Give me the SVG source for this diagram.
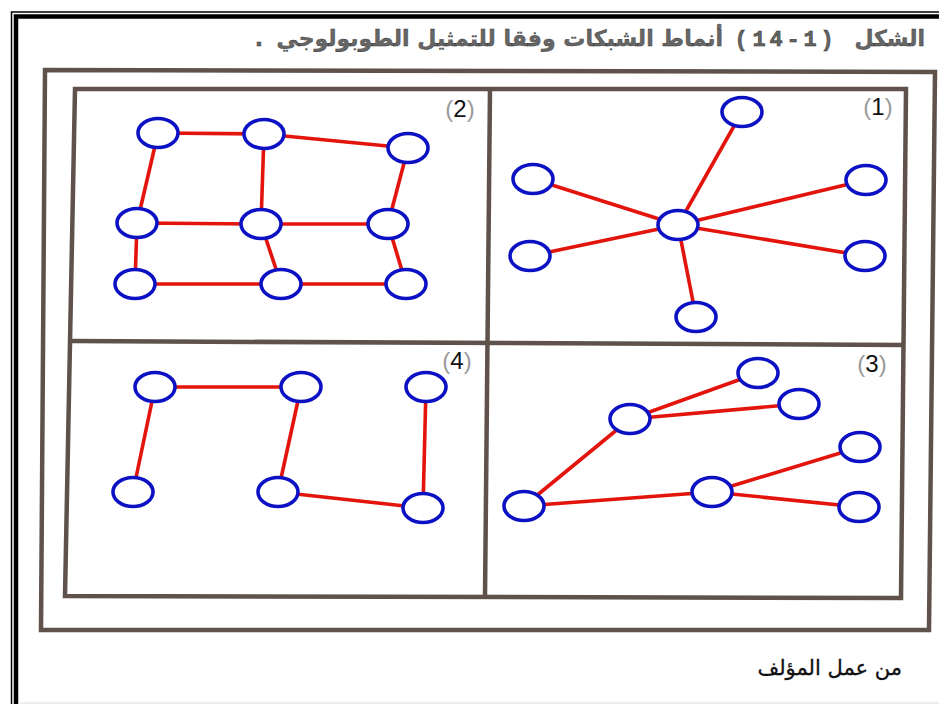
<svg xmlns="http://www.w3.org/2000/svg" width="939" height="704" viewBox="0 0 939 704">
<style>
  .frame { fill: none; stroke: #5e524b; stroke-width: 4.5; stroke-linejoin: miter; }
  .edge { stroke: #e3140c; stroke-width: 3.6; stroke-linecap: butt; }
  .node ellipse { fill: #ffffff; stroke: #0c12c4; stroke-width: 3.6; }
  .ar { font-family: "DejaVu Sans", sans-serif; }
  .title { fill: #666; stroke: #333; stroke-width: 0.35; font-weight: bold; font-size: 22px; }
  .num { font-family: "Liberation Mono", "DejaVu Sans Mono", monospace; font-weight: bold; font-size: 22px; fill: #666; stroke: #2e2e2e; stroke-width: 0.5; text-anchor: middle; }
  .lbl { font-family: "Liberation Sans", Arial, sans-serif; font-size: 24px; fill: #111; }
  .par { fill: #9a9a9a; }
</style>
<rect x="0" y="0" width="939" height="704" fill="#ffffff"/>
<!-- page border -->
<g id="page-border">
  <rect x="11.5" y="12" width="1000" height="1000" fill="none" stroke="#000" stroke-width="1.5"/>
  <rect x="16" y="16.5" width="1000" height="1000" fill="none" stroke="#000" stroke-width="4.5"/>
  <line x1="18" y1="703" x2="939" y2="703" stroke="#dcdcdc" stroke-width="1"/>
</g>
<!-- title -->
<g id="title">
  <text class="ar title" x="925" y="46" text-anchor="end">الشكل</text>
  <g id="figure-number">
    <text class="num" x="741" y="46">(</text>
    <text class="num" x="759" y="46">1</text>
    <text class="num" x="776" y="46">4</text>
    <text class="num" x="793" y="46">-</text>
    <text class="num" x="810" y="46">1</text>
    <text class="num" x="827" y="46">)</text>
  </g>
  <text class="ar title" x="723" y="46" text-anchor="end">أنماط الشبكات وفقا للتمثيل الطوبولوجي</text>
  <text class="ar title" x="259" y="46" text-anchor="middle">.</text>
</g>
<!-- frames -->
<g id="frames">
  <path class="frame" d="M45 70 L935 72 L929 630 L41 630 Z"/>
  <path class="frame" d="M75 89 L906 89 L901 598 L65 596 Z"/>
  <line class="frame" x1="490" y1="89" x2="485" y2="597"/>
  <line class="frame" x1="72" y1="341" x2="904" y2="345"/>
</g>
<!-- panel labels -->
<g id="labels">
  <text class="lbl" x="878" y="115" text-anchor="middle"><tspan class="par">(</tspan>1<tspan class="par">)</tspan></text>
  <text class="lbl" x="460" y="117" text-anchor="middle"><tspan class="par">(</tspan>2<tspan class="par">)</tspan></text>
  <text class="lbl" x="872" y="372" text-anchor="middle"><tspan class="par">(</tspan>3<tspan class="par">)</tspan></text>
  <text class="lbl" x="457" y="369" text-anchor="middle"><tspan class="par">(</tspan>4<tspan class="par">)</tspan></text>
</g>
<!-- connectors -->
<g id="connectors">
  <!-- panel 1: star -->
  <line class="edge" x1="678" y1="225" x2="742" y2="112"/>
  <line class="edge" x1="678" y1="225" x2="533" y2="179"/>
  <line class="edge" x1="678" y1="225" x2="866" y2="180"/>
  <line class="edge" x1="678" y1="225" x2="530" y2="256"/>
  <line class="edge" x1="678" y1="225" x2="865" y2="256"/>
  <line class="edge" x1="678" y1="225" x2="696" y2="317"/>
  <!-- panel 2: mesh -->
  <line class="edge" x1="158" y1="133" x2="264" y2="134"/>
  <line class="edge" x1="264" y1="134" x2="408" y2="148"/>
  <line class="edge" x1="158" y1="133" x2="137" y2="223"/>
  <line class="edge" x1="264" y1="134" x2="261" y2="224"/>
  <line class="edge" x1="408" y1="148" x2="388" y2="224"/>
  <line class="edge" x1="137" y1="223" x2="261" y2="224"/>
  <line class="edge" x1="261" y1="224" x2="388" y2="224"/>
  <line class="edge" x1="137" y1="223" x2="135" y2="284"/>
  <line class="edge" x1="261" y1="224" x2="281" y2="284"/>
  <line class="edge" x1="388" y1="224" x2="406" y2="284"/>
  <line class="edge" x1="135" y1="284" x2="281" y2="284"/>
  <line class="edge" x1="281" y1="284" x2="406" y2="284"/>
  <!-- panel 3: tree -->
  <line class="edge" x1="524" y1="506" x2="630" y2="419"/>
  <line class="edge" x1="524" y1="506" x2="712" y2="492"/>
  <line class="edge" x1="630" y1="419" x2="758" y2="373"/>
  <line class="edge" x1="630" y1="419" x2="799" y2="404"/>
  <line class="edge" x1="712" y1="492" x2="860" y2="447"/>
  <line class="edge" x1="712" y1="492" x2="859" y2="507"/>
  <!-- panel 4 -->
  <line class="edge" x1="155" y1="387" x2="301" y2="387"/>
  <line class="edge" x1="155" y1="387" x2="133" y2="492"/>
  <line class="edge" x1="301" y1="387" x2="278" y2="492"/>
  <line class="edge" x1="278" y1="492" x2="423" y2="508"/>
  <line class="edge" x1="426" y1="387" x2="423" y2="508"/>
</g>
<!-- nodes: panel 1 -->
<g id="n1-center" class="node"><ellipse cx="678" cy="225" rx="20" ry="14.5"/></g>
<g id="n1-top" class="node"><ellipse cx="742" cy="112" rx="20" ry="14.5"/></g>
<g id="n1-left-up" class="node"><ellipse cx="533" cy="179" rx="20" ry="14.5"/></g>
<g id="n1-right-up" class="node"><ellipse cx="866" cy="180" rx="20" ry="14.5"/></g>
<g id="n1-left-low" class="node"><ellipse cx="530" cy="256" rx="20" ry="14.5"/></g>
<g id="n1-right-low" class="node"><ellipse cx="865" cy="256" rx="20" ry="14.5"/></g>
<g id="n1-bottom" class="node"><ellipse cx="696" cy="317" rx="20" ry="14.5"/></g>
<!-- nodes: panel 2 -->
<g id="n2-a" class="node"><ellipse cx="158" cy="133" rx="20" ry="14.5"/></g>
<g id="n2-b" class="node"><ellipse cx="264" cy="134" rx="20" ry="14.5"/></g>
<g id="n2-c" class="node"><ellipse cx="408" cy="148" rx="20" ry="14.5"/></g>
<g id="n2-d" class="node"><ellipse cx="137" cy="223" rx="20" ry="14.5"/></g>
<g id="n2-e" class="node"><ellipse cx="261" cy="224" rx="20" ry="14.5"/></g>
<g id="n2-f" class="node"><ellipse cx="388" cy="224" rx="20" ry="14.5"/></g>
<g id="n2-g" class="node"><ellipse cx="135" cy="284" rx="20" ry="14.5"/></g>
<g id="n2-h" class="node"><ellipse cx="281" cy="284" rx="20" ry="14.5"/></g>
<g id="n2-i" class="node"><ellipse cx="406" cy="284" rx="20" ry="14.5"/></g>
<!-- nodes: panel 3 -->
<g id="n3-root" class="node"><ellipse cx="524" cy="506" rx="20" ry="14.5"/></g>
<g id="n3-mid1" class="node"><ellipse cx="630" cy="419" rx="20" ry="14.5"/></g>
<g id="n3-leaf1" class="node"><ellipse cx="758" cy="373" rx="20" ry="14.5"/></g>
<g id="n3-leaf2" class="node"><ellipse cx="799" cy="404" rx="20" ry="14.5"/></g>
<g id="n3-mid2" class="node"><ellipse cx="712" cy="492" rx="20" ry="14.5"/></g>
<g id="n3-leaf3" class="node"><ellipse cx="860" cy="447" rx="20" ry="14.5"/></g>
<g id="n3-leaf4" class="node"><ellipse cx="859" cy="507" rx="20" ry="14.5"/></g>
<!-- nodes: panel 4 -->
<g id="n4-a" class="node"><ellipse cx="155" cy="387" rx="20" ry="14.5"/></g>
<g id="n4-b" class="node"><ellipse cx="301" cy="387" rx="20" ry="14.5"/></g>
<g id="n4-c" class="node"><ellipse cx="426" cy="387" rx="20" ry="14.5"/></g>
<g id="n4-d" class="node"><ellipse cx="133" cy="492" rx="20" ry="14.5"/></g>
<g id="n4-e" class="node"><ellipse cx="278" cy="492" rx="20" ry="14.5"/></g>
<g id="n4-f" class="node"><ellipse cx="423" cy="508" rx="20" ry="14.5"/></g>
<!-- footer -->
<g id="footer">
  <text class="ar" x="902" y="675" text-anchor="end" font-size="21" fill="#111" stroke="#111" stroke-width="0.3">من عمل المؤلف</text>
</g>
</svg>
